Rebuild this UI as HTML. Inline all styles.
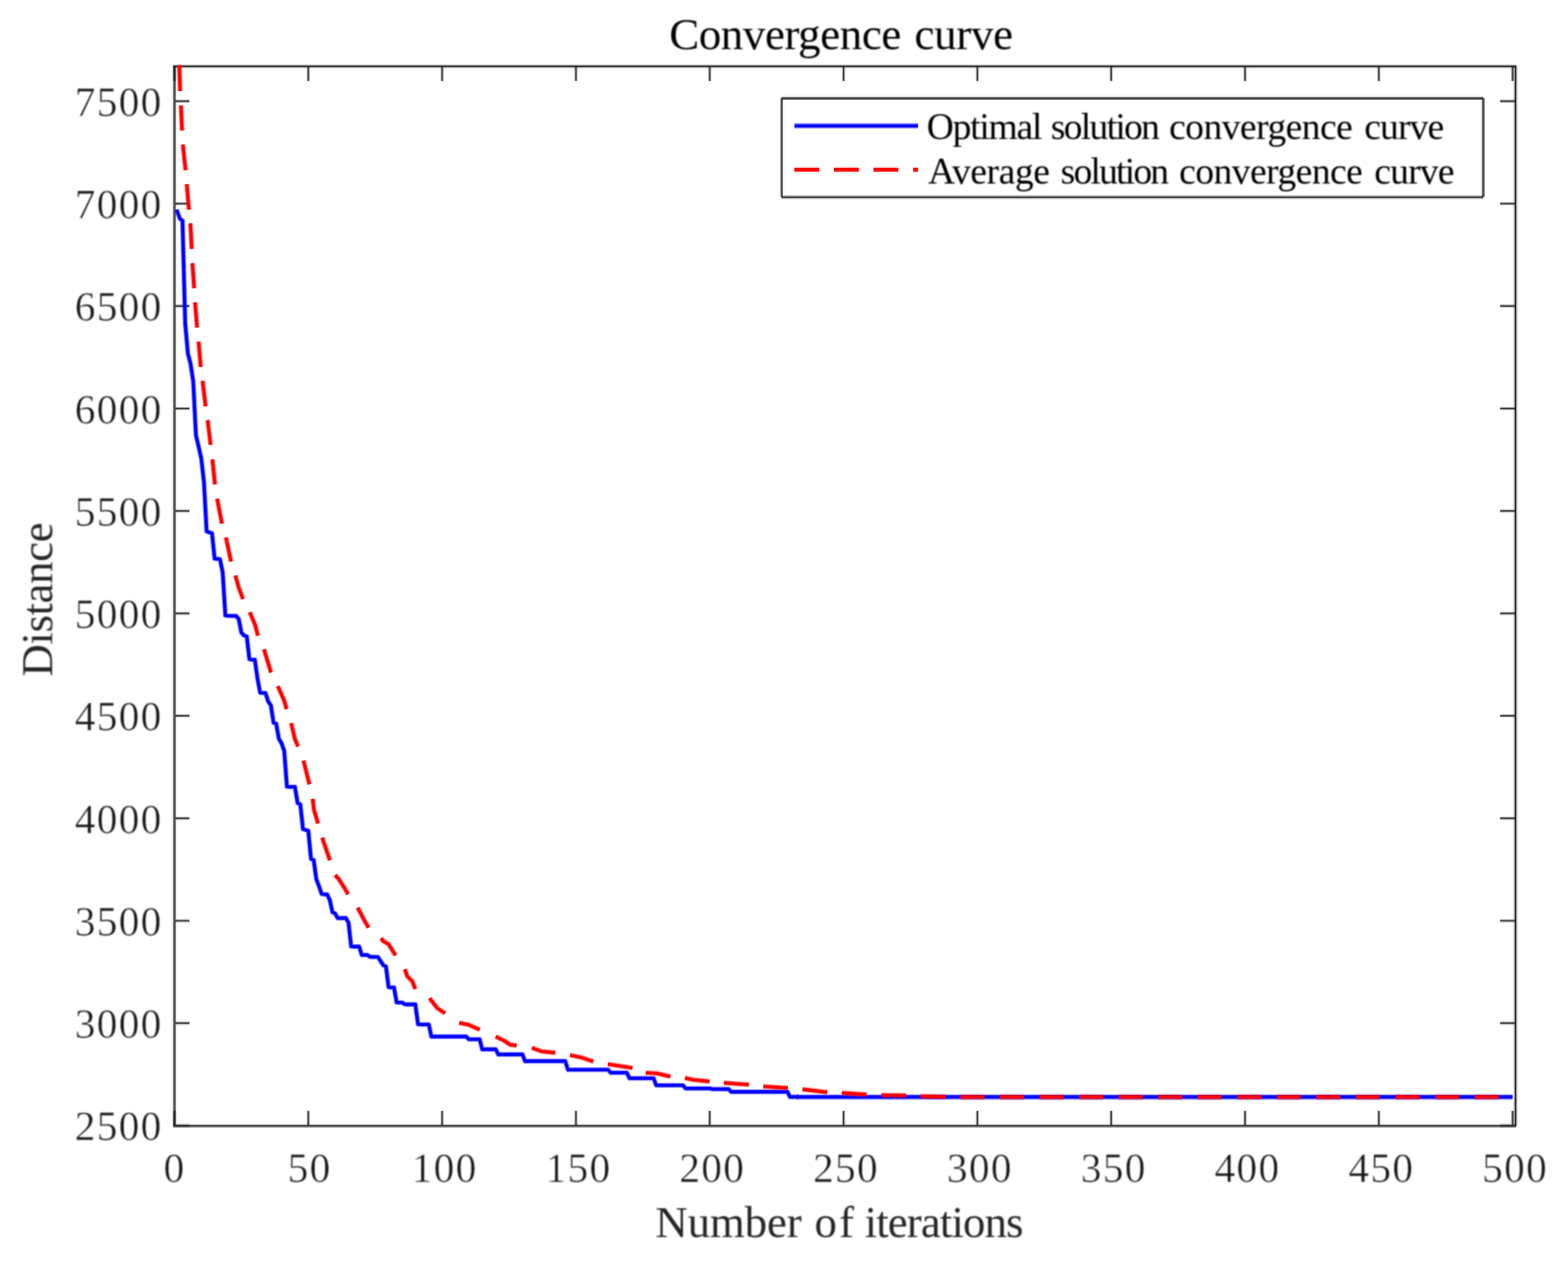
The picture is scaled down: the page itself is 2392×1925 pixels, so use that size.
<!DOCTYPE html>
<html lang="en"><head><meta charset="utf-8"><title>Convergence curve</title>
<style>html,body{margin:0;padding:0;background:#fff;overflow:hidden}body{width:2392px;height:1925px;overflow:hidden}svg{display:block}text{font-family:"Liberation Serif","DejaVu Serif",serif;fill:#262626}.tl text{fill:#181818}</style></head><body>
<svg width="2392" height="1925" viewBox="0 0 2392 1925">
<rect width="2392" height="1925" fill="#fff"/>
<defs><filter id="soft" x="0" y="0" width="2392" height="1925" filterUnits="userSpaceOnUse" color-interpolation-filters="sRGB"><feGaussianBlur stdDeviation="0.8"/></filter></defs>
<g>
<defs><clipPath id="ax"><rect x="266" y="99.4" width="2046" height="1617.6"/></clipPath></defs>
<rect x="262" y="100" width="2" height="1618" fill="#262626" fill-opacity="0.08"/>
<rect x="264" y="100" width="2" height="1618" fill="#262626" fill-opacity="0.68"/>
<rect x="266" y="100" width="2" height="1618" fill="#262626" fill-opacity="0.8"/>
<rect x="268" y="100" width="2" height="1618" fill="#262626" fill-opacity="0.12"/>
<rect x="2309" y="100" width="2" height="1618" fill="#262626" fill-opacity="0.36"/>
<rect x="2311" y="100" width="2" height="1618" fill="#262626" fill-opacity="0.98"/>
<rect x="2313" y="100" width="2" height="1618" fill="#262626" fill-opacity="0.31"/>
<rect x="264" y="98" width="2049" height="2" fill="#262626" fill-opacity="0.25"/>
<rect x="264" y="100" width="2049" height="2" fill="#262626" fill-opacity="0.98"/>
<rect x="264" y="102" width="2049" height="2" fill="#262626" fill-opacity="0.4"/>
<rect x="264" y="1714" width="2049" height="2" fill="#262626" fill-opacity="0.18"/>
<rect x="264" y="1716" width="2049" height="2" fill="#262626" fill-opacity="0.9"/>
<rect x="264" y="1718" width="2049" height="2" fill="#262626" fill-opacity="0.54"/>
<path d="M266.2 1716 v-21.5 M266.2 102 v21.5 M470.3 1716 v-21.5 M470.3 102 v21.5 M674.5 1716 v-21.5 M674.5 102 v21.5 M878.6 1716 v-21.5 M878.6 102 v21.5 M1082.7 1716 v-21.5 M1082.7 102 v21.5 M1286.9 1716 v-21.5 M1286.9 102 v21.5 M1491 1716 v-21.5 M1491 102 v21.5 M1695.1 1716 v-21.5 M1695.1 102 v21.5 M1899.3 1716 v-21.5 M1899.3 102 v21.5 M2103.4 1716 v-21.5 M2103.4 102 v21.5 M2307.5 1716 v-21.5 M2307.5 102 v21.5 M267.5 1717 h21.5 M2311 1717 h-22.5 M267.5 1560.7 h21.5 M2311 1560.7 h-22.5 M267.5 1404.5 h21.5 M2311 1404.5 h-22.5 M267.5 1248.2 h21.5 M2311 1248.2 h-22.5 M267.5 1091.9 h21.5 M2311 1091.9 h-22.5 M267.5 935.7 h21.5 M2311 935.7 h-22.5 M267.5 779.4 h21.5 M2311 779.4 h-22.5 M267.5 623.1 h21.5 M2311 623.1 h-22.5 M267.5 466.8 h21.5 M2311 466.8 h-22.5 M267.5 310.6 h21.5 M2311 310.6 h-22.5 M267.5 154.3 h21.5 M2311 154.3 h-22.5" fill="none" stroke="#262626" stroke-width="5.4" stroke-opacity="0.28"/>
<path d="M266.2 1716 v-21.5 M266.2 102 v21.5 M470.3 1716 v-21.5 M470.3 102 v21.5 M674.5 1716 v-21.5 M674.5 102 v21.5 M878.6 1716 v-21.5 M878.6 102 v21.5 M1082.7 1716 v-21.5 M1082.7 102 v21.5 M1286.9 1716 v-21.5 M1286.9 102 v21.5 M1491 1716 v-21.5 M1491 102 v21.5 M1695.1 1716 v-21.5 M1695.1 102 v21.5 M1899.3 1716 v-21.5 M1899.3 102 v21.5 M2103.4 1716 v-21.5 M2103.4 102 v21.5 M2307.5 1716 v-21.5 M2307.5 102 v21.5 M267.5 1717 h21.5 M2311 1717 h-22.5 M267.5 1560.7 h21.5 M2311 1560.7 h-22.5 M267.5 1404.5 h21.5 M2311 1404.5 h-22.5 M267.5 1248.2 h21.5 M2311 1248.2 h-22.5 M267.5 1091.9 h21.5 M2311 1091.9 h-22.5 M267.5 935.7 h21.5 M2311 935.7 h-22.5 M267.5 779.4 h21.5 M2311 779.4 h-22.5 M267.5 623.1 h21.5 M2311 623.1 h-22.5 M267.5 466.8 h21.5 M2311 466.8 h-22.5 M267.5 310.6 h21.5 M2311 310.6 h-22.5 M267.5 154.3 h21.5 M2311 154.3 h-22.5" fill="none" stroke="#262626" stroke-width="2.2" stroke-opacity="0.85"/>
<g clip-path="url(#ax)" fill="none" stroke-linejoin="round">
<path d="M269.3 319.8 L274.4 333.5 L278.4 336.7 L282.5 493 L286.6 539 L290.7 555 L294.8 582 L298.9 664 L302.9 681 L307 699 L311.1 735 L315.2 810.5 L319.3 812 L323.4 813.6 L327.4 852 L331.5 852.5 L335.6 853.2 L339.7 873 L343.8 938.8 L347.9 939.3 L360.1 939.5 L364.2 944.4 L368.3 965.2 L372.4 969.4 L376.4 970.8 L380.5 1005.6 L384.6 1006.3 L388.7 1006.3 L392.8 1034.8 L396.8 1056.4 L400.9 1057 L405 1057.1 L409.1 1069.7 L413.2 1076 L417.3 1102.4 L421.3 1103.8 L425.4 1126.8 L429.5 1133.7 L433.6 1145.6 L437.7 1199.8 L441.8 1200.3 L449.9 1200.3 L454 1224.9 L458.1 1227 L462.2 1264.5 L466.3 1266 L470.3 1267.3 L474.4 1309.9 L478.5 1312 L482.6 1341.2 L486.7 1352 L490.7 1363.5 L494.8 1364.2 L498.9 1364.2 L503 1372.5 L507.1 1391.3 L511.2 1393.4 L515.2 1400.4 L527.5 1400.4 L531.6 1407.3 L535.7 1443.5 L539.7 1443.9 L547.9 1443.9 L552 1456.7 L560.2 1456.7 L564.2 1459.2 L568.3 1459.8 L576.5 1459.8 L580.6 1466 L584.7 1472.2 L588.7 1474.3 L592.8 1505.6 L596.9 1506.2 L601 1506.2 L605.1 1529 L609.1 1529.3 L613.2 1529.3 L617.3 1531.7 L621.4 1532.1 L633.6 1532.1 L637.7 1562.3 L641.8 1562.7 L654.1 1562.7 L658.1 1581.1 L711.2 1581.1 L715.3 1585.3 L731.6 1585.3 L735.7 1600.6 L756.1 1600.6 L760.2 1608.4 L797 1608.4 L801 1618.6 L862.3 1618.6 L866.4 1631.7 L927.6 1631.7 L931.7 1636.2 L956.2 1636.2 L960.3 1644.8 L997 1644.8 L1001.1 1655.5 L1041.9 1655.5 L1046 1660.3 L1082.7 1660.3 L1086.8 1661.2 L1111.3 1661.2 L1115.4 1665.4 L1201.1 1665.4 L1205.2 1673.1 L1218 1673.1" stroke="#0000ff" stroke-width="9.2" stroke-opacity="0.1"/>
<path d="M269.3 319.8 L274.4 333.5 L278.4 336.7 L282.5 493 L286.6 539 L290.7 555 L294.8 582 L298.9 664 L302.9 681 L307 699 L311.1 735 L315.2 810.5 L319.3 812 L323.4 813.6 L327.4 852 L331.5 852.5 L335.6 853.2 L339.7 873 L343.8 938.8 L347.9 939.3 L360.1 939.5 L364.2 944.4 L368.3 965.2 L372.4 969.4 L376.4 970.8 L380.5 1005.6 L384.6 1006.3 L388.7 1006.3 L392.8 1034.8 L396.8 1056.4 L400.9 1057 L405 1057.1 L409.1 1069.7 L413.2 1076 L417.3 1102.4 L421.3 1103.8 L425.4 1126.8 L429.5 1133.7 L433.6 1145.6 L437.7 1199.8 L441.8 1200.3 L449.9 1200.3 L454 1224.9 L458.1 1227 L462.2 1264.5 L466.3 1266 L470.3 1267.3 L474.4 1309.9 L478.5 1312 L482.6 1341.2 L486.7 1352 L490.7 1363.5 L494.8 1364.2 L498.9 1364.2 L503 1372.5 L507.1 1391.3 L511.2 1393.4 L515.2 1400.4 L527.5 1400.4 L531.6 1407.3 L535.7 1443.5 L539.7 1443.9 L547.9 1443.9 L552 1456.7 L560.2 1456.7 L564.2 1459.2 L568.3 1459.8 L576.5 1459.8 L580.6 1466 L584.7 1472.2 L588.7 1474.3 L592.8 1505.6 L596.9 1506.2 L601 1506.2 L605.1 1529 L609.1 1529.3 L613.2 1529.3 L617.3 1531.7 L621.4 1532.1 L633.6 1532.1 L637.7 1562.3 L641.8 1562.7 L654.1 1562.7 L658.1 1581.1 L711.2 1581.1 L715.3 1585.3 L731.6 1585.3 L735.7 1600.6 L756.1 1600.6 L760.2 1608.4 L797 1608.4 L801 1618.6 L862.3 1618.6 L866.4 1631.7 L927.6 1631.7 L931.7 1636.2 L956.2 1636.2 L960.3 1644.8 L997 1644.8 L1001.1 1655.5 L1041.9 1655.5 L1046 1660.3 L1082.7 1660.3 L1086.8 1661.2 L1111.3 1661.2 L1115.4 1665.4 L1201.1 1665.4 L1205.2 1673.1 L1218 1673.1" stroke="#0000ff" stroke-width="7.6" stroke-opacity="0.42"/>
<path d="M269.3 319.8 L274.4 333.5 L278.4 336.7 L282.5 493 L286.6 539 L290.7 555 L294.8 582 L298.9 664 L302.9 681 L307 699 L311.1 735 L315.2 810.5 L319.3 812 L323.4 813.6 L327.4 852 L331.5 852.5 L335.6 853.2 L339.7 873 L343.8 938.8 L347.9 939.3 L360.1 939.5 L364.2 944.4 L368.3 965.2 L372.4 969.4 L376.4 970.8 L380.5 1005.6 L384.6 1006.3 L388.7 1006.3 L392.8 1034.8 L396.8 1056.4 L400.9 1057 L405 1057.1 L409.1 1069.7 L413.2 1076 L417.3 1102.4 L421.3 1103.8 L425.4 1126.8 L429.5 1133.7 L433.6 1145.6 L437.7 1199.8 L441.8 1200.3 L449.9 1200.3 L454 1224.9 L458.1 1227 L462.2 1264.5 L466.3 1266 L470.3 1267.3 L474.4 1309.9 L478.5 1312 L482.6 1341.2 L486.7 1352 L490.7 1363.5 L494.8 1364.2 L498.9 1364.2 L503 1372.5 L507.1 1391.3 L511.2 1393.4 L515.2 1400.4 L527.5 1400.4 L531.6 1407.3 L535.7 1443.5 L539.7 1443.9 L547.9 1443.9 L552 1456.7 L560.2 1456.7 L564.2 1459.2 L568.3 1459.8 L576.5 1459.8 L580.6 1466 L584.7 1472.2 L588.7 1474.3 L592.8 1505.6 L596.9 1506.2 L601 1506.2 L605.1 1529 L609.1 1529.3 L613.2 1529.3 L617.3 1531.7 L621.4 1532.1 L633.6 1532.1 L637.7 1562.3 L641.8 1562.7 L654.1 1562.7 L658.1 1581.1 L711.2 1581.1 L715.3 1585.3 L731.6 1585.3 L735.7 1600.6 L756.1 1600.6 L760.2 1608.4 L797 1608.4 L801 1618.6 L862.3 1618.6 L866.4 1631.7 L927.6 1631.7 L931.7 1636.2 L956.2 1636.2 L960.3 1644.8 L997 1644.8 L1001.1 1655.5 L1041.9 1655.5 L1046 1660.3 L1082.7 1660.3 L1086.8 1661.2 L1111.3 1661.2 L1115.4 1665.4 L1201.1 1665.4 L1205.2 1673.1 L1218 1673.1" stroke="#0000ff" stroke-width="4.6"/>
<path d="M273.5 99 L274.8 138.9 M276 160.8 L277.7 199.2 M278.9 220.6 L283.1 259.5 M284.9 280.9 L288.2 319.8 M290.4 340.7 L292.4 379.6 M293.5 401.5 L296.2 439.7 M297.6 461.2 L300.6 499.5 M302.9 521.1 L306.2 559.7 M309 580.9 L313.6 619.8 M316.8 640.9 L321.2 678.4 M324 700.7 L327.9 739 M331.2 760.8 L338.6 798.8 M344.6 819.7 L352.5 856.5 M359.1 877.8 L364 895.7 L370.7 913.7 M381 933.9 L389 952.7 L393.5 969.7 M402.7 990.3 L413.4 1025.8 M423.8 1046.6 L433.3 1068 L437.2 1081.6 M444.2 1103.1 L449.7 1126.8 L454.6 1138.6 M463 1160.2 L472 1196.4 M476.9 1218.6 L479 1235.3 L485.2 1256.2 M491.5 1277.8 L503.2 1312.3 M511.1 1335 L516 1339.8 L525 1353.7 L531 1364.2 M545.6 1384.4 L555.7 1403.8 L562.2 1415 M581.4 1431 L584.9 1435.8 L592.5 1440 L599.5 1451.1 L603.4 1457.4 M617.6 1478.3 L621.1 1489 L629 1497 L633.6 1508.5 M655.3 1522.6 L667.1 1537.9 L679 1545.6 M700.5 1560.2 L714.4 1563 L731.8 1570.6 M756.2 1581.1 L768.7 1587.3 L778.4 1593.6 L788.2 1594.7 M811.5 1598.3 L826.4 1603.8 L847 1605.9 M869.6 1609.4 L886.3 1612.9 L905 1619.1 M927.3 1623.3 L964.9 1628.9 M985 1636.5 L1001.8 1637.2 L1022.6 1642.1 M1044.9 1644.2 L1057.4 1647 L1082.4 1649.6 M1104.2 1651.8 L1142.4 1654.5 M1164.4 1657.3 L1201.9 1659.6" stroke="#ff0000" stroke-width="9.2" stroke-opacity="0.1"/>
<path d="M273.5 99 L274.8 138.9 M276 160.8 L277.7 199.2 M278.9 220.6 L283.1 259.5 M284.9 280.9 L288.2 319.8 M290.4 340.7 L292.4 379.6 M293.5 401.5 L296.2 439.7 M297.6 461.2 L300.6 499.5 M302.9 521.1 L306.2 559.7 M309 580.9 L313.6 619.8 M316.8 640.9 L321.2 678.4 M324 700.7 L327.9 739 M331.2 760.8 L338.6 798.8 M344.6 819.7 L352.5 856.5 M359.1 877.8 L364 895.7 L370.7 913.7 M381 933.9 L389 952.7 L393.5 969.7 M402.7 990.3 L413.4 1025.8 M423.8 1046.6 L433.3 1068 L437.2 1081.6 M444.2 1103.1 L449.7 1126.8 L454.6 1138.6 M463 1160.2 L472 1196.4 M476.9 1218.6 L479 1235.3 L485.2 1256.2 M491.5 1277.8 L503.2 1312.3 M511.1 1335 L516 1339.8 L525 1353.7 L531 1364.2 M545.6 1384.4 L555.7 1403.8 L562.2 1415 M581.4 1431 L584.9 1435.8 L592.5 1440 L599.5 1451.1 L603.4 1457.4 M617.6 1478.3 L621.1 1489 L629 1497 L633.6 1508.5 M655.3 1522.6 L667.1 1537.9 L679 1545.6 M700.5 1560.2 L714.4 1563 L731.8 1570.6 M756.2 1581.1 L768.7 1587.3 L778.4 1593.6 L788.2 1594.7 M811.5 1598.3 L826.4 1603.8 L847 1605.9 M869.6 1609.4 L886.3 1612.9 L905 1619.1 M927.3 1623.3 L964.9 1628.9 M985 1636.5 L1001.8 1637.2 L1022.6 1642.1 M1044.9 1644.2 L1057.4 1647 L1082.4 1649.6 M1104.2 1651.8 L1142.4 1654.5 M1164.4 1657.3 L1201.9 1659.6" stroke="#ff0000" stroke-width="7.6" stroke-opacity="0.42"/>
<path d="M273.5 99 L274.8 138.9 M276 160.8 L277.7 199.2 M278.9 220.6 L283.1 259.5 M284.9 280.9 L288.2 319.8 M290.4 340.7 L292.4 379.6 M293.5 401.5 L296.2 439.7 M297.6 461.2 L300.6 499.5 M302.9 521.1 L306.2 559.7 M309 580.9 L313.6 619.8 M316.8 640.9 L321.2 678.4 M324 700.7 L327.9 739 M331.2 760.8 L338.6 798.8 M344.6 819.7 L352.5 856.5 M359.1 877.8 L364 895.7 L370.7 913.7 M381 933.9 L389 952.7 L393.5 969.7 M402.7 990.3 L413.4 1025.8 M423.8 1046.6 L433.3 1068 L437.2 1081.6 M444.2 1103.1 L449.7 1126.8 L454.6 1138.6 M463 1160.2 L472 1196.4 M476.9 1218.6 L479 1235.3 L485.2 1256.2 M491.5 1277.8 L503.2 1312.3 M511.1 1335 L516 1339.8 L525 1353.7 L531 1364.2 M545.6 1384.4 L555.7 1403.8 L562.2 1415 M581.4 1431 L584.9 1435.8 L592.5 1440 L599.5 1451.1 L603.4 1457.4 M617.6 1478.3 L621.1 1489 L629 1497 L633.6 1508.5 M655.3 1522.6 L667.1 1537.9 L679 1545.6 M700.5 1560.2 L714.4 1563 L731.8 1570.6 M756.2 1581.1 L768.7 1587.3 L778.4 1593.6 L788.2 1594.7 M811.5 1598.3 L826.4 1603.8 L847 1605.9 M869.6 1609.4 L886.3 1612.9 L905 1619.1 M927.3 1623.3 L964.9 1628.9 M985 1636.5 L1001.8 1637.2 L1022.6 1642.1 M1044.9 1644.2 L1057.4 1647 L1082.4 1649.6 M1104.2 1651.8 L1142.4 1654.5 M1164.4 1657.3 L1201.9 1659.6" stroke="#ff0000" stroke-width="4.6"/>
</g>
<rect x="1216" y="1668" width="1091.6" height="2" fill="#0000ff" fill-opacity="0.12"/>
<rect x="1216" y="1670" width="1091.6" height="2" fill="#0000ff" fill-opacity="0.8"/>
<rect x="1216" y="1672" width="1091.6" height="2" fill="#0000ff" fill-opacity="1"/>
<rect x="1216" y="1674" width="1091.6" height="2" fill="#0000ff" fill-opacity="0.9"/>
<rect x="1216" y="1676" width="1091.6" height="2" fill="#0000ff" fill-opacity="0.33"/>
<g clip-path="url(#ax)" fill="none" stroke-linejoin="round">
<path d="M1224.2 1661.6 L1262 1666.1 M1284.3 1667.1 L1321.9 1669.6 M1344.5 1670.5 L1382.2 1671 M1404.4 1672.3 L1442.4 1673" stroke="#ff0000" stroke-width="9.2" stroke-opacity="0.1"/>
<path d="M1224.2 1661.6 L1262 1666.1 M1284.3 1667.1 L1321.9 1669.6 M1344.5 1670.5 L1382.2 1671 M1404.4 1672.3 L1442.4 1673" stroke="#ff0000" stroke-width="7.6" stroke-opacity="0.42"/>
<path d="M1224.2 1661.6 L1262 1666.1 M1284.3 1667.1 L1321.9 1669.6 M1344.5 1670.5 L1382.2 1671 M1404.4 1672.3 L1442.4 1673" stroke="#ff0000" stroke-width="4.6"/>
</g>
<rect x="1465.1" y="1668" width="36.7" height="2" fill="#ff0000" fill-opacity="0.12"/>
<rect x="1465.1" y="1670" width="36.7" height="2" fill="#ff0000" fill-opacity="0.8"/>
<rect x="1465.1" y="1672" width="36.7" height="2" fill="#ff0000" fill-opacity="1"/>
<rect x="1465.1" y="1674" width="36.7" height="2" fill="#ff0000" fill-opacity="0.9"/>
<rect x="1465.1" y="1676" width="36.7" height="2" fill="#ff0000" fill-opacity="0.33"/>
<rect x="1525.4" y="1668" width="36.7" height="2" fill="#ff0000" fill-opacity="0.12"/>
<rect x="1525.4" y="1670" width="36.7" height="2" fill="#ff0000" fill-opacity="0.8"/>
<rect x="1525.4" y="1672" width="36.7" height="2" fill="#ff0000" fill-opacity="1"/>
<rect x="1525.4" y="1674" width="36.7" height="2" fill="#ff0000" fill-opacity="0.9"/>
<rect x="1525.4" y="1676" width="36.7" height="2" fill="#ff0000" fill-opacity="0.33"/>
<rect x="1585.8" y="1668" width="36.7" height="2" fill="#ff0000" fill-opacity="0.12"/>
<rect x="1585.8" y="1670" width="36.7" height="2" fill="#ff0000" fill-opacity="0.8"/>
<rect x="1585.8" y="1672" width="36.7" height="2" fill="#ff0000" fill-opacity="1"/>
<rect x="1585.8" y="1674" width="36.7" height="2" fill="#ff0000" fill-opacity="0.9"/>
<rect x="1585.8" y="1676" width="36.7" height="2" fill="#ff0000" fill-opacity="0.33"/>
<rect x="1646.1" y="1668" width="36.7" height="2" fill="#ff0000" fill-opacity="0.12"/>
<rect x="1646.1" y="1670" width="36.7" height="2" fill="#ff0000" fill-opacity="0.8"/>
<rect x="1646.1" y="1672" width="36.7" height="2" fill="#ff0000" fill-opacity="1"/>
<rect x="1646.1" y="1674" width="36.7" height="2" fill="#ff0000" fill-opacity="0.9"/>
<rect x="1646.1" y="1676" width="36.7" height="2" fill="#ff0000" fill-opacity="0.33"/>
<rect x="1706.4" y="1668" width="36.7" height="2" fill="#ff0000" fill-opacity="0.12"/>
<rect x="1706.4" y="1670" width="36.7" height="2" fill="#ff0000" fill-opacity="0.8"/>
<rect x="1706.4" y="1672" width="36.7" height="2" fill="#ff0000" fill-opacity="1"/>
<rect x="1706.4" y="1674" width="36.7" height="2" fill="#ff0000" fill-opacity="0.9"/>
<rect x="1706.4" y="1676" width="36.7" height="2" fill="#ff0000" fill-opacity="0.33"/>
<rect x="1766.8" y="1668" width="36.7" height="2" fill="#ff0000" fill-opacity="0.12"/>
<rect x="1766.8" y="1670" width="36.7" height="2" fill="#ff0000" fill-opacity="0.8"/>
<rect x="1766.8" y="1672" width="36.7" height="2" fill="#ff0000" fill-opacity="1"/>
<rect x="1766.8" y="1674" width="36.7" height="2" fill="#ff0000" fill-opacity="0.9"/>
<rect x="1766.8" y="1676" width="36.7" height="2" fill="#ff0000" fill-opacity="0.33"/>
<rect x="1827.1" y="1668" width="36.7" height="2" fill="#ff0000" fill-opacity="0.12"/>
<rect x="1827.1" y="1670" width="36.7" height="2" fill="#ff0000" fill-opacity="0.8"/>
<rect x="1827.1" y="1672" width="36.7" height="2" fill="#ff0000" fill-opacity="1"/>
<rect x="1827.1" y="1674" width="36.7" height="2" fill="#ff0000" fill-opacity="0.9"/>
<rect x="1827.1" y="1676" width="36.7" height="2" fill="#ff0000" fill-opacity="0.33"/>
<rect x="1887.4" y="1668" width="36.7" height="2" fill="#ff0000" fill-opacity="0.12"/>
<rect x="1887.4" y="1670" width="36.7" height="2" fill="#ff0000" fill-opacity="0.8"/>
<rect x="1887.4" y="1672" width="36.7" height="2" fill="#ff0000" fill-opacity="1"/>
<rect x="1887.4" y="1674" width="36.7" height="2" fill="#ff0000" fill-opacity="0.9"/>
<rect x="1887.4" y="1676" width="36.7" height="2" fill="#ff0000" fill-opacity="0.33"/>
<rect x="1947.7" y="1668" width="36.7" height="2" fill="#ff0000" fill-opacity="0.12"/>
<rect x="1947.7" y="1670" width="36.7" height="2" fill="#ff0000" fill-opacity="0.8"/>
<rect x="1947.7" y="1672" width="36.7" height="2" fill="#ff0000" fill-opacity="1"/>
<rect x="1947.7" y="1674" width="36.7" height="2" fill="#ff0000" fill-opacity="0.9"/>
<rect x="1947.7" y="1676" width="36.7" height="2" fill="#ff0000" fill-opacity="0.33"/>
<rect x="2008.1" y="1668" width="36.7" height="2" fill="#ff0000" fill-opacity="0.12"/>
<rect x="2008.1" y="1670" width="36.7" height="2" fill="#ff0000" fill-opacity="0.8"/>
<rect x="2008.1" y="1672" width="36.7" height="2" fill="#ff0000" fill-opacity="1"/>
<rect x="2008.1" y="1674" width="36.7" height="2" fill="#ff0000" fill-opacity="0.9"/>
<rect x="2008.1" y="1676" width="36.7" height="2" fill="#ff0000" fill-opacity="0.33"/>
<rect x="2068.4" y="1668" width="36.7" height="2" fill="#ff0000" fill-opacity="0.12"/>
<rect x="2068.4" y="1670" width="36.7" height="2" fill="#ff0000" fill-opacity="0.8"/>
<rect x="2068.4" y="1672" width="36.7" height="2" fill="#ff0000" fill-opacity="1"/>
<rect x="2068.4" y="1674" width="36.7" height="2" fill="#ff0000" fill-opacity="0.9"/>
<rect x="2068.4" y="1676" width="36.7" height="2" fill="#ff0000" fill-opacity="0.33"/>
<rect x="2128.7" y="1668" width="36.7" height="2" fill="#ff0000" fill-opacity="0.12"/>
<rect x="2128.7" y="1670" width="36.7" height="2" fill="#ff0000" fill-opacity="0.8"/>
<rect x="2128.7" y="1672" width="36.7" height="2" fill="#ff0000" fill-opacity="1"/>
<rect x="2128.7" y="1674" width="36.7" height="2" fill="#ff0000" fill-opacity="0.9"/>
<rect x="2128.7" y="1676" width="36.7" height="2" fill="#ff0000" fill-opacity="0.33"/>
<rect x="2189.1" y="1668" width="36.7" height="2" fill="#ff0000" fill-opacity="0.12"/>
<rect x="2189.1" y="1670" width="36.7" height="2" fill="#ff0000" fill-opacity="0.8"/>
<rect x="2189.1" y="1672" width="36.7" height="2" fill="#ff0000" fill-opacity="1"/>
<rect x="2189.1" y="1674" width="36.7" height="2" fill="#ff0000" fill-opacity="0.9"/>
<rect x="2189.1" y="1676" width="36.7" height="2" fill="#ff0000" fill-opacity="0.33"/>
<rect x="2249.4" y="1668" width="36.7" height="2" fill="#ff0000" fill-opacity="0.12"/>
<rect x="2249.4" y="1670" width="36.7" height="2" fill="#ff0000" fill-opacity="0.8"/>
<rect x="2249.4" y="1672" width="36.7" height="2" fill="#ff0000" fill-opacity="1"/>
<rect x="2249.4" y="1674" width="36.7" height="2" fill="#ff0000" fill-opacity="0.9"/>
<rect x="2249.4" y="1676" width="36.7" height="2" fill="#ff0000" fill-opacity="0.33"/>
<rect x="1194" y="152" width="1067" height="146" fill="#fff"/>
<rect x="1192" y="146" width="1071" height="2" fill="#262626" fill-opacity="0.1"/>
<rect x="1192" y="148" width="1071" height="2" fill="#262626" fill-opacity="0.75"/>
<rect x="1192" y="150" width="1071" height="2" fill="#262626" fill-opacity="0.88"/>
<rect x="1192" y="298" width="1071" height="2" fill="#262626" fill-opacity="0.43"/>
<rect x="1192" y="300" width="1071" height="2" fill="#262626" fill-opacity="0.9"/>
<rect x="1192" y="302" width="1071" height="2" fill="#262626" fill-opacity="0.27"/>
<rect x="1190" y="150" width="2" height="150" fill="#262626" fill-opacity="0.5"/>
<rect x="1192" y="150" width="2" height="150" fill="#262626" fill-opacity="0.88"/>
<rect x="1194" y="150" width="2" height="150" fill="#262626" fill-opacity="0.1"/>
<rect x="2259" y="150" width="2" height="150" fill="#262626" fill-opacity="0.15"/>
<rect x="2261" y="150" width="2" height="150" fill="#262626" fill-opacity="0.8"/>
<rect x="2263" y="150" width="2" height="150" fill="#262626" fill-opacity="0.7"/>
<rect x="1212" y="186" width="188.5" height="2" fill="#0000ff" fill-opacity="0.06"/>
<rect x="1212" y="188" width="188.5" height="2" fill="#0000ff" fill-opacity="0.56"/>
<rect x="1212" y="190" width="188.5" height="4" fill="#0000ff" fill-opacity="1"/>
<rect x="1212" y="194" width="188.5" height="2" fill="#0000ff" fill-opacity="0.53"/>
<rect x="1211.8" y="254" width="37.9" height="2" fill="#ff0000" fill-opacity="0.15"/>
<rect x="1211.8" y="256" width="37.9" height="4" fill="#ff0000" fill-opacity="1"/>
<rect x="1211.8" y="260" width="37.9" height="2" fill="#ff0000" fill-opacity="0.86"/>
<rect x="1211.8" y="262" width="37.9" height="2" fill="#ff0000" fill-opacity="0.09"/>
<rect x="1272.1" y="254" width="37.9" height="2" fill="#ff0000" fill-opacity="0.15"/>
<rect x="1272.1" y="256" width="37.9" height="4" fill="#ff0000" fill-opacity="1"/>
<rect x="1272.1" y="260" width="37.9" height="2" fill="#ff0000" fill-opacity="0.86"/>
<rect x="1272.1" y="262" width="37.9" height="2" fill="#ff0000" fill-opacity="0.09"/>
<rect x="1332.5" y="254" width="37.9" height="2" fill="#ff0000" fill-opacity="0.15"/>
<rect x="1332.5" y="256" width="37.9" height="4" fill="#ff0000" fill-opacity="1"/>
<rect x="1332.5" y="260" width="37.9" height="2" fill="#ff0000" fill-opacity="0.86"/>
<rect x="1332.5" y="262" width="37.9" height="2" fill="#ff0000" fill-opacity="0.09"/>
<rect x="1392.8" y="254" width="7.7" height="2" fill="#ff0000" fill-opacity="0.15"/>
<rect x="1392.8" y="256" width="7.7" height="4" fill="#ff0000" fill-opacity="1"/>
<rect x="1392.8" y="260" width="7.7" height="2" fill="#ff0000" fill-opacity="0.86"/>
<rect x="1392.8" y="262" width="7.7" height="2" fill="#ff0000" fill-opacity="0.09"/>
</g>
<g filter="url(#soft)">
<g font-size="63.2" letter-spacing="1.9" stroke="#fff" stroke-width="0.7" paint-order="fill stroke" class="tl">
<text x="266.2" y="1803" text-anchor="middle">0</text>
<text x="472.2" y="1803" text-anchor="middle">50</text>
<text x="678.2" y="1803" text-anchor="middle">100</text>
<text x="882.4" y="1803" text-anchor="middle">150</text>
<text x="1086.5" y="1803" text-anchor="middle">200</text>
<text x="1290.6" y="1803" text-anchor="middle">250</text>
<text x="1494.8" y="1803" text-anchor="middle">300</text>
<text x="1698.9" y="1803" text-anchor="middle">350</text>
<text x="1903" y="1803" text-anchor="middle">400</text>
<text x="2107.2" y="1803" text-anchor="middle">450</text>
<text x="2311.3" y="1803" text-anchor="middle">500</text>
<text x="247.9" y="1739.4" text-anchor="end">2500</text>
<text x="247.9" y="1583.1" text-anchor="end">3000</text>
<text x="247.9" y="1426.9" text-anchor="end">3500</text>
<text x="247.9" y="1270.6" text-anchor="end">4000</text>
<text x="247.9" y="1114.3" text-anchor="end">4500</text>
<text x="247.9" y="958.1" text-anchor="end">5000</text>
<text x="247.9" y="801.8" text-anchor="end">5500</text>
<text x="247.9" y="645.5" text-anchor="end">6000</text>
<text x="247.9" y="489.2" text-anchor="end">6500</text>
<text x="247.9" y="333" text-anchor="end">7000</text>
<text x="247.9" y="176.7" text-anchor="end">7500</text>
</g>
<text y="74.8" font-size="68.6" style="fill:#000"><tspan x="1020.9" letter-spacing="-0.66">Convergence</tspan> <tspan x="1394.9" letter-spacing="-0.42">curve</tspan></text>
<text y="1887" font-size="68.4"><tspan x="999.7" letter-spacing="-0.15">Number</tspan> <tspan x="1242.4" letter-spacing="3.30">of</tspan> <tspan x="1319" letter-spacing="-1.34">iterations</tspan></text>
<text y="212" font-size="57.2" style="fill:#000"><tspan x="1413.8" letter-spacing="-1.85">Optimal</tspan> <tspan x="1603.1" letter-spacing="-2.57">solution</tspan> <tspan x="1783.5" letter-spacing="-0.77">convergence</tspan> <tspan x="2081.3" letter-spacing="-1.31">curve</tspan></text>
<text y="279.5" font-size="57.2" style="fill:#000"><tspan x="1415.8" letter-spacing="-0.62">Average</tspan> <tspan x="1618.1" letter-spacing="-2.72">solution</tspan> <tspan x="1798.8" letter-spacing="-0.77">convergence</tspan> <tspan x="2096.6" letter-spacing="-1.18">curve</tspan></text>
<text transform="translate(79.5 1032) rotate(-90)" font-size="68.4" letter-spacing="-0.6">Distance</text>
</g>
</svg></body></html>
